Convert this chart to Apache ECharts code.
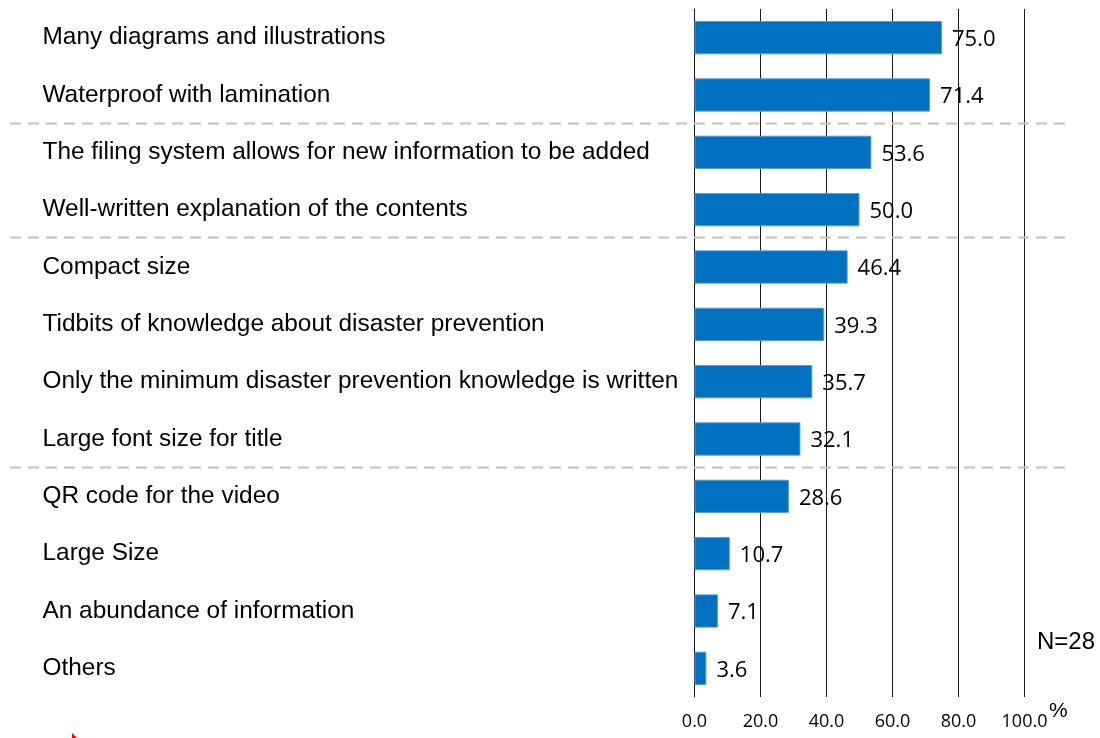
<!DOCTYPE html>
<html>
<head>
<meta charset="utf-8">
<script src="https://cdn.jsdelivr.net/npm/echarts@6/dist/echarts.min.js"></script>
<style>
html,body{margin:0;padding:0;background:#fff;}
#chart{width:1100px;height:738px;}
</style>
</head>
<body>
<div id="chart"></div>
<script>
const categories = [
  "Many diagrams and illustrations",
  "Waterproof with lamination",
  "The filing system allows for new information to be added",
  "Well-written explanation of the contents",
  "Compact size",
  "Tidbits of knowledge about disaster prevention",
  "Only the minimum disaster prevention knowledge is written",
  "Large font size for title",
  "QR code for the video",
  "Large Size",
  "An abundance of information",
  "Others"
];
const values = [75.0, 71.4, 53.6, 50.0, 46.4, 39.3, 35.7, 32.1, 28.6, 10.7, 7.1, 3.6];
const xTicks = [0, 20, 40, 60, 80, 100];
// group separators drawn after these category indices
const separatorsAfter = [1, 3, 7];
const sampleNote = "N=28";
const unitLabel = "%";

const chart = echarts.init(document.getElementById('chart'), null, {renderer: 'canvas'});
const option = {
  animation: false,
  backgroundColor: '#ffffff',
  grid: {left: 694.5, right: 75.5, top: 9, bottom: 41, containLabel: false},
  xAxis: {
    type: 'value',
    min: xTicks[0],
    max: xTicks[xTicks.length - 1],
    interval: xTicks[1] - xTicks[0],
    axisLine: {show: false},
    axisTick: {show: false},
    splitLine: {show: true, lineStyle: {color: '#1a1a1a', width: 1}},
    axisLabel: {
      formatter: v => v.toFixed(1),
      fontFamily: 'Open Sans',
      fontSize: 18,
      color: '#000',
      margin: 16
    }
  },
  yAxis: {
    type: 'category',
    data: categories,
    inverse: true,
    axisLine: {show: true, lineStyle: {color: '#1a1a1a', width: 1}},
    axisTick: {show: false},
    splitLine: {show: false},
    axisLabel: {
      align: 'left',
      margin: 652,
      padding: [3, 0, 0, 0],
      fontFamily: 'Liberation Sans',
      fontSize: 24.4,
      color: '#000'
    }
  },
  series: [{
    type: 'bar',
    data: values,
    barCategoryGap: '42%',
    itemStyle: {color: '#0070c0', borderColor: '#5b9bd5', borderWidth: 1},
    label: {
      show: true,
      position: 'right',
      distance: 10,
      offset: [0, 2],
      formatter: p => p.value.toFixed(1),
      fontFamily: 'Open Sans',
      fontSize: 22,
      color: '#000'
    },
    z: 3
  }]
};
chart.setOption(option);

function addGraphics() {
  const els = [];
  separatorsAfter.forEach((idx, i) => {
    const y1 = chart.convertToPixel({yAxisIndex: 0}, categories[idx]);
    const y2 = chart.convertToPixel({yAxisIndex: 0}, categories[idx + 1]);
    const y = Math.round((y1 + y2) / 2) - 0.5;
    els.push({
      type: 'line', id: 'sep' + i, z: 10,
      shape: {x1: 10, y1: y, x2: 1068, y2: y},
      style: {stroke: '#c0c0c0', lineWidth: 2, lineDash: [11, 7]}
    });
  });
  els.push({
    type: 'text', id: 'note', left: 1037, top: 630, z: 10,
    style: {text: sampleNote, font: '24px "Liberation Sans"', fill: '#000'}
  });
  els.push({
    type: 'text', id: 'unit', left: 1049, top: 701, z: 10,
    style: {text: unitLabel, font: '21px "Liberation Sans"', fill: '#000'}
  });
  els.push({
    type: 'polygon', id: 'mark', z: 10,
    shape: {points: [[72, 733], [72, 738], [77, 738]]},
    style: {fill: '#ff0000'}
  });
  chart.setOption({graphic: els});
}
addGraphics();
</script>
</body>
</html>
